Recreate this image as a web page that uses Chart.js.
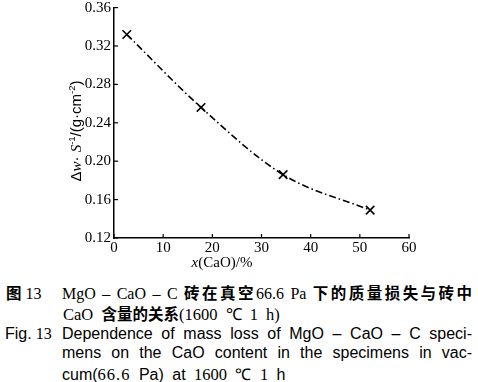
<!DOCTYPE html>
<html><head><meta charset="utf-8">
<script src="https://cdn.jsdelivr.net/npm/chart.js@4"></script>
<style>
body{margin:0;background:#fff;width:478px;height:382px;overflow:hidden;position:relative;}
#c{position:absolute;left:0;top:0;}
.ln{position:absolute;white-space:nowrap;color:#000;}
.lab{position:absolute;white-space:nowrap;color:#000;}
.zh{font-family:"Noto Sans CJK SC";font-weight:700;font-size:15.5px;}
.se{font-family:"Liberation Serif";}
.sa{font-family:"Liberation Sans";}
.just{width:410px;text-align:justify;text-align-last:justify;}
</style></head>
<body>
<canvas id="c" width="478" height="272"></canvas>
<div class="lab" style="left:6px;top:281px;font-size:16px;"><span class="zh">图</span><span class="se"> 13</span></div>
<div class="ln just se" style="left:62px;top:281px;font-size:16px;">MgO – CaO – C <span class="zh">砖在真空</span>66.6 Pa <span class="zh">下的质量损失与砖中</span></div>
<div class="ln se" style="left:63px;top:302px;font-size:16.5px;word-spacing:4px;">CaO <span class="zh">含量的关系</span>(1600 ℃ 1 h)</div>
<div class="lab" style="left:5px;top:325px;font-size:16px;"><span class="sa">Fig.</span><span class="se"> 13</span></div>
<div class="ln just sa" style="left:62px;top:325px;font-size:16px;">Dependence of mass loss of MgO – CaO – C speci-</div>
<div class="ln just sa" style="left:62px;top:344px;font-size:16px;">mens on the CaO content in the specimens in vac-</div>
<div class="ln sa" style="left:62px;top:363px;font-size:16px;word-spacing:4px;">cum(<span class="se" style="font-size:16.5px;letter-spacing:1px;">66.6</span> Pa) at <span class="se" style="font-size:16.5px;">1600</span> ℃ <span class="se" style="font-size:16.5px;">1</span> h</div>
<script>
const xCaO = [2.6, 17.7, 34.4, 52.1];
const massLoss = [0.332, 0.256, 0.186, 0.149];
const xTicks = [0, 10, 20, 30, 40, 50, 60];
const yTicks = [0.12, 0.16, 0.20, 0.24, 0.28, 0.32, 0.36];

const inwardTicks = {
  id: 'inwardTicks',
  afterDraw(chart) {
    const {ctx, scales: {x, y}} = chart;
    ctx.save();
    ctx.strokeStyle = '#000';
    ctx.lineWidth = 1.2;
    const x0 = x.getPixelForValue(0), y0 = y.getPixelForValue(0.12);
    yTicks.forEach(v => { const py = y.getPixelForValue(v); ctx.beginPath(); ctx.moveTo(x0, py); ctx.lineTo(x0 + 4, py); ctx.stroke(); });
    xTicks.forEach(v => { const px = x.getPixelForValue(v); ctx.beginPath(); ctx.moveTo(px, y0); ctx.lineTo(px, y0 - 4); ctx.stroke(); });
    ctx.fillStyle = '#000';
    ctx.textBaseline = 'middle';
    const parts = [['italic 15px "Liberation Serif"', 'x'], ['15px "Liberation Serif"', '(CaO)/%']];
    let w = 0; parts.forEach(p => { ctx.font = p[0]; w += ctx.measureText(p[1]).width; });
    let cx = 222 - w / 2;
    parts.forEach(p => { ctx.font = p[0]; ctx.textAlign = 'left'; ctx.fillText(p[1], cx, 263); cx += ctx.measureText(p[1]).width; });
    ctx.translate(77, 131);
    ctx.rotate(-Math.PI / 2);
    const yp = [
      ['15px "Liberation Sans"', 'Δ', 0], ['italic 15px "Liberation Serif"', 'w', 0], ['15px "Liberation Sans"', '· ', 0],
      ['italic 15px "Liberation Serif"', 'S', 0], ['9.5px "Liberation Sans"', '-1', -5], ['15px "Liberation Sans"', '/(g·cm', 0],
      ['9.5px "Liberation Sans"', '-2', -5], ['15px "Liberation Sans"', ')', 0]
    ];
    w = 0; yp.forEach(p => { ctx.font = p[0]; w += ctx.measureText(p[1]).width; });
    cx = -w / 2;
    yp.forEach(p => { ctx.font = p[0]; ctx.fillText(p[1], cx, p[2]); cx += ctx.measureText(p[1]).width; });
    ctx.restore();
  }
};

new Chart(document.getElementById('c'), {
  type: 'scatter',
  data: {
    datasets: [{
      data: xCaO.map((v, i) => ({x: v, y: massLoss[i]})),
      showLine: true,
      borderColor: '#000',
      borderWidth: 1.6,
      borderDash: [7, 3, 1.5, 3],
      cubicInterpolationMode: 'monotone',
      pointStyle: 'crossRot',
      pointRadius: 6,
      pointBorderWidth: 1.6,
      pointBorderColor: '#000',
      pointBackgroundColor: '#000'
    }]
  },
  options: {
    responsive: false,
    animation: false,
    events: [],
    layout: {padding: {top: 7, right: 69, left: 0, bottom: 0}},
    plugins: {legend: {display: false}, tooltip: {enabled: false}},
    scales: {
      x: {
        type: 'linear', min: 0, max: 60,
        afterBuildTicks: a => { a.ticks = xTicks.map(v => ({value: v})); },
        afterFit: a => { a.height = 34; a.paddingLeft = 0; a.paddingRight = 0; },
        grid: {display: false, drawTicks: false},
        border: {display: true, color: '#000', width: 1.5},
        ticks: {color: '#000', padding: 1, maxRotation: 0, font: {family: 'Liberation Serif', size: 15}, callback: v => String(v)}
      },
      y: {
        type: 'linear', min: 0.12, max: 0.36,
        afterBuildTicks: a => { a.ticks = yTicks.map(v => ({value: v})); },
        afterFit: a => { a.width = 114; a.paddingTop = 0; a.paddingBottom = 0; },
        grid: {display: false, drawTicks: false},
        border: {display: true, color: '#000', width: 1.5},
        ticks: {color: '#000', padding: 3, font: {family: 'Liberation Serif', size: 15}, callback: v => Number(v).toFixed(2)}
      }
    }
  },
  plugins: [inwardTicks]
});
</script>
</body></html>
